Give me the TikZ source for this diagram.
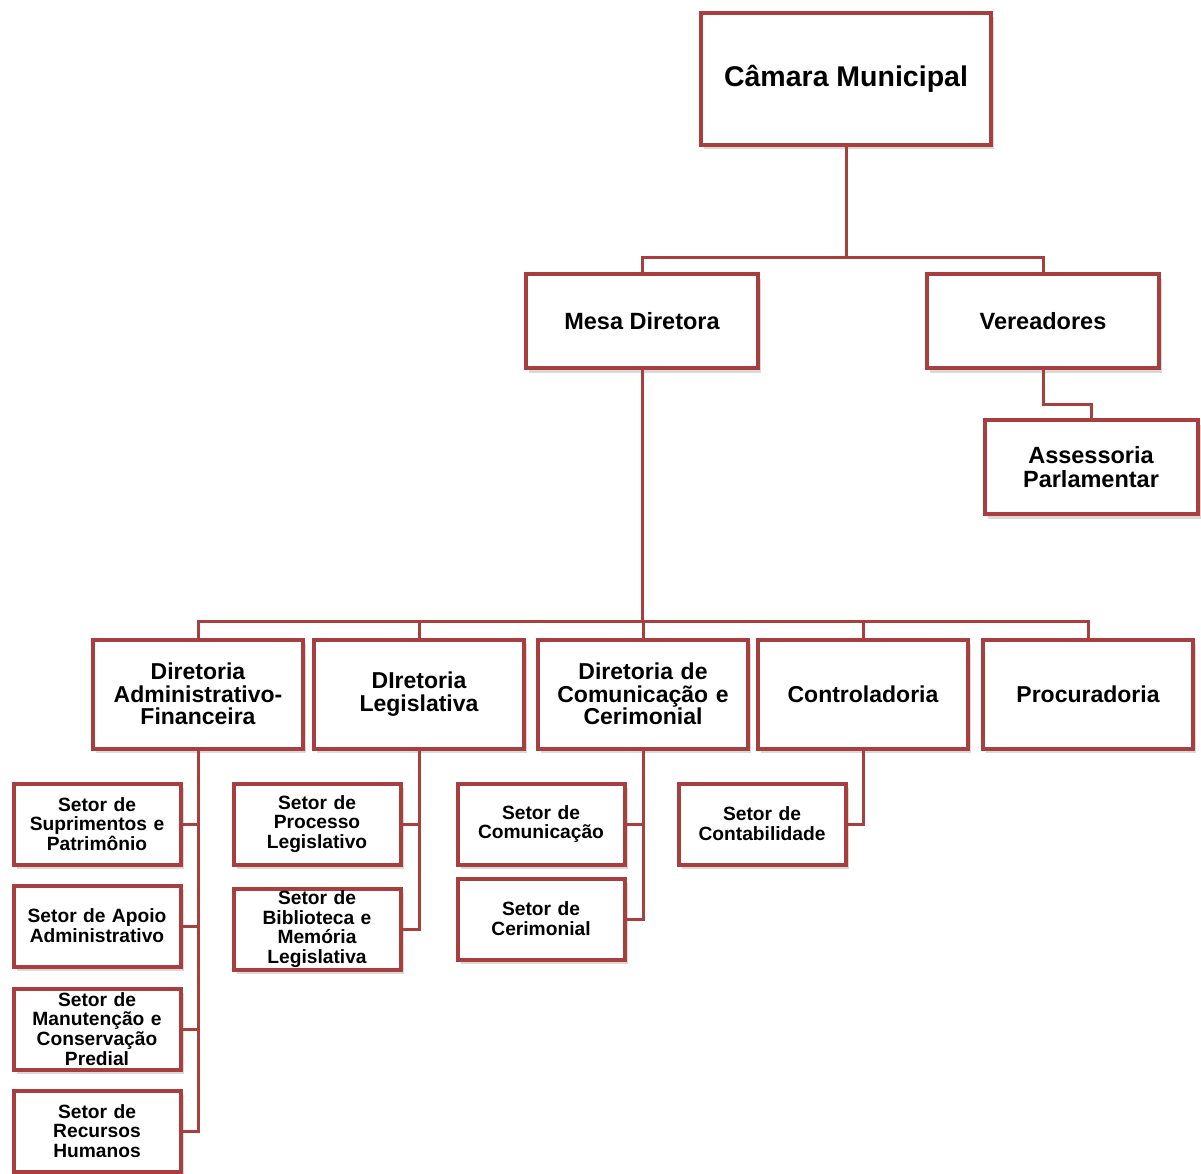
\documentclass[tikz,border=0pt]{standalone}
\usepackage{fontspec}
\setmainfont{Liberation Sans}
\usepackage{tikz}
\usetikzlibrary{shadows}
\definecolor{myred}{RGB}{168,62,62}
\tikzset{
  box/.style={draw=myred,line width=4pt,fill=white,align=center,inner sep=0pt,
    font=\bfseries\fontsize{23}{22.5}\selectfont,
    drop shadow={opacity=0.3,shadow xshift=3pt,shadow yshift=-4.5pt}},
  box top/.style={box,minimum width=290pt,minimum height=132pt,font=\bfseries\fontsize{28.5}{30}\selectfont},
  box mid/.style={box,minimum width=232pt,minimum height=94pt,font=\bfseries\fontsize{23.5}{23.5}\selectfont},
  box dir/.style={box,minimum width=210pt,minimum height=109pt,text width=205pt},
  box small/.style={box,minimum width=167pt,minimum height=81pt,text width=162pt,
    font=\bfseries\fontsize{19.2}{19.8}\selectfont},
  connect/.style={draw=myred,line width=3pt}
}
\begin{document}
\begin{tikzpicture}[x=1pt,y=-1pt]
  \useasboundingbox (0,0) rectangle (1201,1174);

  % top levels
  \node[box top] (camara) at (846,79) {Câmara Municipal};
  \node[box mid] (mesa) at (642,321) {Mesa Diretora};
  \node[box mid] (vereadores) at (1043,321) {Vereadores};
  \node[box mid,minimum width=213pt] (assessoria) at (1091,467) {Assessoria\\Parlamentar};

  % diretorias
  \node[box dir] (dirAdm) at (198,694) {Diretoria\\Administrativo-\\Financeira};
  \node[box dir] (dirLeg) at (419,694) {DIretoria\\Legislativa};
  \node[box dir] (dirCom) at (643,694) {Diretoria de\\Comunicação e\\Cerimonial};
  \node[box dir] (control) at (863,694) {Controladoria};
  \node[box dir] (procur) at (1088,694) {Procuradoria};

  % setores
  \node[box small] (supr) at (97,824) {Setor de\\Suprimentos e\\Patrimônio};
  \node[box small] (apoio) at (97,926) {Setor de Apoio\\Administrativo};
  \node[box small] (manut) at (97,1029) {Setor de\\Manutenção e\\Conservação\\Predial};
  \node[box small] (rh) at (97,1131) {Setor de\\Recursos\\Humanos};
  \node[box small] (proc) at (317,824) {Setor de\\Processo\\Legislativo};
  \node[box small] (biblio) at (317,929) {Setor de\\Biblioteca e\\Memória\\Legislativa};
  \node[box small] (comun) at (541,824) {Setor de\\Comunicação};
  \node[box small] (ceri) at (541,919) {Setor de\\Cerimonial};
  \node[box small] (contab) at (762,824) {Setor de\\Contabilidade};

  % connectors
  \coordinate (bus1) at (846,258);
  \coordinate (bus2) at (642,621);
  \draw[connect] (camara.south) -- (bus1);
  \draw[connect] (bus1) -| (mesa.north);
  \draw[connect] (bus1) -| (vereadores.north);
  \draw[connect] (vereadores.south) -- ++(0,34) -| (assessoria.north);
  \draw[connect] (mesa.south) -- (bus2);
  \foreach \d in {dirAdm,dirLeg,dirCom,control,procur}
    \draw[connect] (bus2) -| (\d.north);
  \foreach \s in {supr,apoio,manut,rh}
    \draw[connect] (dirAdm.south) |- (\s.east);
  \foreach \s in {proc,biblio}
    \draw[connect] (dirLeg.south) |- (\s.east);
  \foreach \s in {comun,ceri}
    \draw[connect] (dirCom.south) |- (\s.east);
  \draw[connect] (control.south) |- (contab.east);
\end{tikzpicture}
\end{document}
